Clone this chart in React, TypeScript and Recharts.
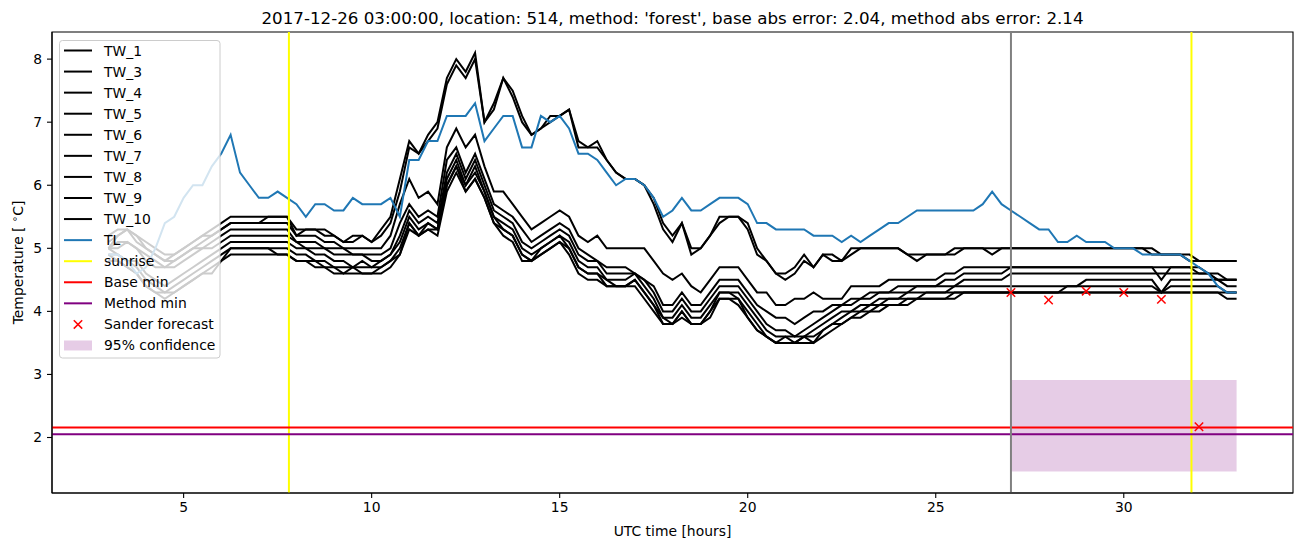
import React from 'react'
import {
  ComposedChart, Line, Scatter, XAxis, YAxis, ReferenceLine, ReferenceArea
} from 'recharts'

// sample times (hours UTC), one every 15 minutes
const HOURS = Array.from({ length: 121 }, (_, i) => 3 + i * 0.25)

const TW_1 = [
  5.2, 5.3, 5.3, 5.1, 5.0, 4.9, 4.8, 4.9, 5.0, 5.1, 5.2, 5.3, 5.4, 5.5, 5.5, 5.5,
  5.5, 5.5, 5.5, 5.5, 5.3, 5.3, 5.3, 5.3, 5.2, 5.1, 5.2, 5.2, 5.1, 5.3, 5.5, 6.1,
  6.7, 6.5, 6.8, 7.0, 7.7, 8.0, 7.8, 8.1, 7.0, 7.3, 7.7, 7.5, 7.1, 6.8, 6.9, 7.1,
  7.1, 7.2, 6.7, 6.6, 6.7, 6.4, 6.2, 6.1, 6.1, 6.0, 5.7, 5.3, 5.1, 5.4, 5.0, 5.0,
  5.2, 5.5, 5.5, 5.5, 5.3, 4.9, 4.8, 4.6, 4.6, 4.7, 4.9, 4.7, 4.9, 4.9, 4.8, 5.0,
  5.0, 5.0, 5.0, 5.0, 5.0, 4.9, 4.8, 4.9, 4.9, 4.9, 5.0, 5.0, 5.0, 5.0, 4.9, 5.0,
  5.0, 5.0, 5.0, 5.0, 5.0, 5.0, 5.0, 5.0, 5.0, 5.0, 5.0, 5.0, 5.0, 5.0, 5.0, 4.9,
  4.9, 4.9, 4.9, 4.9, 4.8, 4.8, 4.8, 4.8, 4.8,
]
const TW_3 = [
  5.1, 5.2, 5.3, 5.2, 5.1, 5.0, 4.9, 4.9, 5.0, 5.1, 5.2, 5.2, 5.3, 5.4, 5.4, 5.4,
  5.4, 5.5, 5.5, 5.5, 5.2, 5.3, 5.3, 5.2, 5.2, 5.1, 5.1, 5.2, 5.1, 5.2, 5.4, 5.9,
  6.6, 6.5, 6.7, 6.9, 7.6, 7.9, 7.7, 8.0, 7.0, 7.2, 7.7, 7.4, 7.0, 6.8, 6.9, 7.0,
  7.1, 7.2, 6.6, 6.6, 6.6, 6.4, 6.2, 6.1, 6.1, 6.0, 5.8, 5.4, 5.2, 5.4, 4.9, 5.0,
  5.2, 5.4, 5.5, 5.5, 5.4, 5.0, 4.8, 4.6, 4.5, 4.6, 4.8, 4.7, 4.9, 4.8, 4.8, 4.9,
  5.0, 5.0, 5.0, 5.0, 5.0, 4.9, 4.9, 4.9, 4.9, 4.9, 4.9, 5.0, 5.0, 5.0, 5.0, 5.0,
  5.0, 5.0, 5.0, 5.0, 5.0, 5.0, 5.0, 5.0, 5.0, 5.0, 5.0, 5.0, 5.0, 5.0, 5.0, 5.0,
  4.9, 4.9, 4.9, 4.8, 4.8, 4.8, 4.8, 4.8, 4.8,
]
const TW_4 = [
  5.0, 5.2, 5.3, 5.2, 5.0, 4.9, 4.8, 4.8, 4.9, 5.0, 5.1, 5.2, 5.3, 5.4, 5.4, 5.4,
  5.4, 5.4, 5.4, 5.4, 5.2, 5.2, 5.2, 5.1, 5.1, 5.0, 5.0, 5.0, 5.0, 5.0, 5.2, 5.7,
  6.1, 5.8, 5.9, 5.7, 6.6, 6.9, 6.6, 6.8, 6.3, 5.9, 5.9, 5.7, 5.5, 5.3, 5.4, 5.5,
  5.6, 5.5, 5.2, 5.1, 5.2, 5.0, 5.0, 5.0, 5.0, 5.0, 4.8, 4.6, 4.5, 4.6, 4.4, 4.3,
  4.5, 4.7, 4.7, 4.7, 4.5, 4.3, 4.3, 4.1, 4.1, 4.2, 4.2, 4.3, 4.2, 4.2, 4.2, 4.4,
  4.4, 4.4, 4.4, 4.5, 4.5, 4.5, 4.5, 4.5, 4.5, 4.6, 4.6, 4.7, 4.7, 4.7, 4.7, 4.7,
  4.7, 4.7, 4.7, 4.7, 4.7, 4.7, 4.7, 4.7, 4.7, 4.7, 4.7, 4.7, 4.7, 4.7, 4.7, 4.7,
  4.5, 4.7, 4.7, 4.7, 4.6, 4.6, 4.6, 4.5, 4.5,
]
const TW_5 = [
  5.0, 5.1, 5.1, 5.0, 4.9, 4.8, 4.7, 4.8, 4.9, 5.0, 5.0, 5.1, 5.2, 5.3, 5.3, 5.3,
  5.3, 5.3, 5.3, 5.3, 5.1, 5.1, 5.1, 5.0, 5.0, 5.0, 4.9, 4.9, 4.9, 4.9, 5.0, 5.4,
  5.7, 5.5, 5.6, 5.5, 6.4, 6.6, 6.2, 6.5, 6.1, 5.7, 5.6, 5.5, 5.3, 5.1, 5.2, 5.3,
  5.4, 5.3, 5.0, 4.9, 4.8, 4.7, 4.7, 4.7, 4.6, 4.5, 4.4, 4.1, 4.1, 4.3, 4.1, 4.1,
  4.3, 4.5, 4.5, 4.5, 4.3, 4.1, 4.0, 3.9, 3.9, 3.8, 3.9, 4.0, 4.0, 4.1, 4.1, 4.2,
  4.2, 4.3, 4.3, 4.3, 4.4, 4.4, 4.4, 4.4, 4.4, 4.5, 4.5, 4.6, 4.6, 4.6, 4.6, 4.6,
  4.7, 4.7, 4.7, 4.7, 4.7, 4.7, 4.7, 4.7, 4.7, 4.7, 4.7, 4.7, 4.7, 4.7, 4.7, 4.7,
  4.7, 4.7, 4.7, 4.7, 4.7, 4.6, 4.5, 4.5, 4.5,
]
const TW_6 = [
  5.0, 5.0, 5.1, 5.0, 4.8, 4.7, 4.7, 4.7, 4.8, 4.9, 5.0, 5.0, 5.1, 5.2, 5.2, 5.2,
  5.2, 5.2, 5.2, 5.2, 5.1, 5.0, 5.0, 5.0, 4.9, 4.9, 4.9, 4.9, 4.8, 4.8, 4.9, 5.2,
  5.6, 5.4, 5.5, 5.4, 6.2, 6.5, 6.1, 6.4, 6.0, 5.6, 5.5, 5.4, 5.1, 5.0, 5.1, 5.2,
  5.3, 5.2, 4.9, 4.8, 4.8, 4.6, 4.6, 4.6, 4.6, 4.5, 4.3, 4.0, 4.0, 4.2, 4.0, 4.0,
  4.2, 4.4, 4.4, 4.4, 4.2, 4.0, 3.8, 3.7, 3.7, 3.6, 3.7, 3.8, 3.9, 4.0, 4.1, 4.1,
  4.2, 4.2, 4.3, 4.3, 4.3, 4.3, 4.4, 4.4, 4.4, 4.4, 4.4, 4.5, 4.5, 4.5, 4.5, 4.5,
  4.6, 4.6, 4.6, 4.6, 4.6, 4.6, 4.6, 4.6, 4.6, 4.6, 4.6, 4.6, 4.6, 4.6, 4.6, 4.6,
  4.6, 4.6, 4.6, 4.6, 4.6, 4.6, 4.5, 4.5, 4.5,
]
const TW_7 = [
  5.0, 4.9, 4.8, 4.8, 4.6, 4.5, 4.4, 4.5, 4.6, 4.7, 4.8, 4.9, 5.0, 5.1, 5.1, 5.1,
  5.1, 5.1, 5.1, 5.1, 5.0, 5.0, 4.9, 4.9, 4.8, 4.8, 4.7, 4.8, 4.7, 4.8, 4.9, 5.1,
  5.5, 5.3, 5.4, 5.3, 6.1, 6.4, 6.0, 6.3, 5.9, 5.5, 5.4, 5.3, 5.0, 4.9, 5.0, 5.1,
  5.2, 5.1, 4.8, 4.7, 4.7, 4.5, 4.5, 4.5, 4.6, 4.4, 4.2, 3.9, 3.9, 4.1, 3.9, 3.9,
  4.1, 4.3, 4.3, 4.3, 4.1, 3.9, 3.7, 3.6, 3.6, 3.6, 3.6, 3.7, 3.8, 3.9, 4.0, 4.0,
  4.1, 4.1, 4.2, 4.2, 4.2, 4.3, 4.3, 4.3, 4.3, 4.3, 4.4, 4.4, 4.4, 4.4, 4.4, 4.4,
  4.4, 4.4, 4.4, 4.4, 4.4, 4.4, 4.4, 4.4, 4.5, 4.5, 4.5, 4.5, 4.5, 4.5, 4.5, 4.5,
  4.3, 4.5, 4.5, 4.5, 4.5, 4.5, 4.5, 4.4, 4.4,
]
const TW_8 = [
  4.9, 4.9, 4.8, 4.7, 4.5, 4.4, 4.3, 4.4, 4.5, 4.6, 4.7, 4.8, 4.9, 5.0, 5.0, 5.0,
  5.0, 5.0, 5.0, 5.0, 4.9, 4.9, 4.8, 4.8, 4.7, 4.7, 4.7, 4.7, 4.7, 4.7, 4.8, 5.0,
  5.4, 5.2, 5.4, 5.3, 6.0, 6.3, 6.0, 6.2, 5.9, 5.5, 5.3, 5.2, 4.9, 4.8, 5.0, 5.1,
  5.2, 5.0, 4.7, 4.6, 4.6, 4.5, 4.4, 4.4, 4.5, 4.3, 4.1, 3.9, 3.8, 4.0, 3.8, 3.8,
  4.0, 4.3, 4.3, 4.2, 4.0, 3.8, 3.6, 3.5, 3.6, 3.5, 3.6, 3.6, 3.7, 3.8, 3.9, 4.0,
  4.0, 4.1, 4.1, 4.2, 4.2, 4.2, 4.2, 4.3, 4.3, 4.3, 4.3, 4.3, 4.3, 4.3, 4.3, 4.3,
  4.3, 4.3, 4.3, 4.3, 4.3, 4.3, 4.4, 4.4, 4.4, 4.4, 4.4, 4.4, 4.4, 4.4, 4.4, 4.4,
  4.3, 4.4, 4.4, 4.4, 4.4, 4.4, 4.4, 4.3, 4.3,
]
const TW_9 = [
  4.9, 4.8, 4.7, 4.6, 4.4, 4.3, 4.3, 4.3, 4.4, 4.5, 4.6, 4.7, 4.8, 5.0, 5.0, 5.0,
  5.0, 5.0, 4.9, 4.9, 4.8, 4.8, 4.7, 4.7, 4.7, 4.6, 4.7, 4.6, 4.6, 4.7, 4.8, 4.9,
  5.4, 5.2, 5.3, 5.3, 6.0, 6.3, 5.9, 6.1, 5.8, 5.4, 5.3, 5.2, 4.9, 4.8, 4.9, 5.0,
  5.1, 5.0, 4.7, 4.6, 4.6, 4.4, 4.4, 4.4, 4.5, 4.3, 4.1, 3.8, 3.8, 4.0, 3.8, 3.8,
  4.0, 4.2, 4.2, 4.2, 3.9, 3.7, 3.6, 3.5, 3.5, 3.5, 3.6, 3.5, 3.7, 3.8, 3.8, 3.9,
  4.0, 4.0, 4.1, 4.1, 4.1, 4.2, 4.2, 4.2, 4.2, 4.2, 4.3, 4.3, 4.3, 4.3, 4.3, 4.3,
  4.3, 4.3, 4.3, 4.3, 4.3, 4.3, 4.3, 4.3, 4.3, 4.3, 4.3, 4.3, 4.3, 4.3, 4.3, 4.3,
  4.3, 4.3, 4.3, 4.3, 4.3, 4.3, 4.3, 4.2, 4.2,
]
const TW_10 = [
  4.8, 4.8, 4.7, 4.6, 4.4, 4.3, 4.2, 4.3, 4.4, 4.5, 4.6, 4.6, 4.8, 4.9, 4.9, 4.9,
  4.9, 4.9, 4.9, 4.9, 4.8, 4.8, 4.8, 4.7, 4.6, 4.6, 4.6, 4.6, 4.6, 4.6, 4.7, 4.9,
  5.3, 5.2, 5.3, 5.2, 5.9, 6.2, 5.9, 6.1, 5.8, 5.4, 5.2, 5.1, 4.8, 4.8, 4.9, 5.0,
  5.1, 4.9, 4.6, 4.5, 4.5, 4.4, 4.4, 4.4, 4.4, 4.2, 4.0, 3.8, 3.8, 3.9, 3.8, 3.8,
  3.9, 4.2, 4.2, 4.1, 3.9, 3.7, 3.6, 3.5, 3.5, 3.5, 3.5, 3.5, 3.6, 3.7, 3.8, 3.9,
  3.9, 4.0, 4.0, 4.1, 4.1, 4.1, 4.2, 4.2, 4.2, 4.2, 4.2, 4.3, 4.3, 4.3, 4.3, 4.3,
  4.3, 4.3, 4.3, 4.3, 4.3, 4.3, 4.3, 4.3, 4.3, 4.3, 4.3, 4.3, 4.3, 4.3, 4.3, 4.3,
  4.3, 4.3, 4.3, 4.3, 4.3, 4.3, 4.3, 4.3, 4.3,
]
const TL = [
  4.9, 4.9, 4.8, 4.6, 4.7, 5.0, 5.4, 5.5, 5.8, 6.0, 6.0, 6.3, 6.5, 6.8, 6.2, 6.0,
  5.8, 5.8, 5.9, 5.8, 5.7, 5.5, 5.7, 5.7, 5.6, 5.6, 5.8, 5.7, 5.7, 5.7, 5.8, 5.5,
  6.4, 6.4, 6.7, 6.7, 7.1, 7.1, 7.1, 7.3, 6.7, 6.9, 7.1, 7.1, 6.6, 6.6, 7.1, 7.0,
  7.1, 6.9, 6.5, 6.5, 6.4, 6.2, 6.0, 6.1, 6.1, 6.0, 5.8, 5.5, 5.6, 5.8, 5.6, 5.6,
  5.7, 5.8, 5.8, 5.8, 5.7, 5.4, 5.4, 5.3, 5.3, 5.3, 5.3, 5.2, 5.2, 5.2, 5.1, 5.2,
  5.1, 5.2, 5.3, 5.4, 5.4, 5.5, 5.6, 5.6, 5.6, 5.6, 5.6, 5.6, 5.6, 5.7, 5.9, 5.7,
  5.6, 5.5, 5.4, 5.3, 5.3, 5.1, 5.1, 5.2, 5.1, 5.1, 5.1, 5.0, 5.0, 5.0, 4.9, 4.9,
  4.9, 4.9, 4.9, 4.8, 4.7, 4.6, 4.4, 4.3, 4.3,
]

const SANDER_HOURS = [27, 28, 29, 30, 31, 32]
const SANDER_VALUES = [4.3, 4.18, 4.32, 4.3, 4.19, 2.17]

const SUNRISE = [7.8, 31.8]
const FORECAST_START = 27
const BASE_MIN = 2.16
const METHOD_MIN = 2.05
const CONF_HOURS = [27, 33]
const CONF_RANGE = [1.46, 2.91]

const X_DOMAIN = [1.5, 34.5]
const Y_DOMAIN = [1.12, 8.43]
const X_TICKS = [5, 10, 15, 20, 25, 30]
const Y_TICKS = [2, 3, 4, 5, 6, 7, 8]

const TW_SERIES: [string, number[]][] = [
  ['TW_1', TW_1], ['TW_3', TW_3], ['TW_4', TW_4], ['TW_5', TW_5], ['TW_6', TW_6],
  ['TW_7', TW_7], ['TW_8', TW_8], ['TW_9', TW_9], ['TW_10', TW_10],
]

const rows = HOURS.map((h, i) => {
  const r: Record<string, number> = { h, TL: TL[i] }
  TW_SERIES.forEach(([k, vals]) => { r[k] = vals[i] })
  return r
})
const sanderRows = SANDER_HOURS.map((h, i) => ({ h, v: SANDER_VALUES[i] }))

const FONT = 'DejaVu Sans'
const BLUE = '#1f77b4'

const LEGEND_ITEMS = [
  ...TW_SERIES.map(([k]) => ({ label: k, kind: 'line', color: '#000000' })),
  { label: 'TL', kind: 'line', color: BLUE },
  { label: 'sunrise', kind: 'line', color: '#ffff00' },
  { label: 'Base min', kind: 'line', color: '#ff0000' },
  { label: 'Method min', kind: 'line', color: '#800080' },
  { label: 'Sander forecast', kind: 'x', color: '#ff0000' },
  { label: '95% confidence', kind: 'patch', color: '#800080' },
]

function XMark(props: any) {
  const { cx, cy } = props
  const s = 4.2
  return (
    <g stroke="#ff0000" strokeWidth={1.5}>
      <line x1={cx - s} y1={cy - s} x2={cx + s} y2={cy + s} />
      <line x1={cx - s} y1={cy + s} x2={cx + s} y2={cy - s} />
    </g>
  )
}

function Overlay() {
  const rowY = (i: number) => 50.5 + i * 21.07
  return (
    <svg width={1302} height={547} style={{ position: 'absolute', left: 0, top: 0, pointerEvents: 'none' }}>
      <text x={672.5} y={24} textAnchor="middle" fontSize={16.7} fontFamily={FONT} fill="#000">
        2017-12-26 03:00:00, location: 514, method: 'forest', base abs error: 2.04, method abs error: 2.14
      </text>
      <text x={672.5} y={536} textAnchor="middle" fontSize={13.9} fontFamily={FONT} fill="#000">
        UTC time [hours]
      </text>
      <text transform="translate(23,262.5) rotate(-90)" textAnchor="middle" fontSize={13.9} fontFamily={FONT} fill="#000">
        Temperature [ <tspan dy={-5} fontSize={10}>∘</tspan><tspan dy={5}>C]</tspan>
      </text>

      <rect x={59.5} y={40.5} width={160.5} height={317.5} rx={3} fill="#ffffff" fillOpacity={0.8} stroke="#cccccc" strokeWidth={1} />
      {LEGEND_ITEMS.map((it, i) => {
        const y = rowY(i)
        return (
          <g key={it.label}>
            {it.kind === 'line' && <line x1={64} x2={92} y1={y} y2={y} stroke={it.color} strokeWidth={2} />}
            {it.kind === 'x' && <XMark cx={78} cy={y} />}
            {it.kind === 'patch' && <rect x={64} y={y - 5} width={28} height={10} fill={it.color} fillOpacity={0.2} />}
            <text x={104} y={y} dominantBaseline="central" fontSize={13.9} fontFamily={FONT} fill="#000">{it.label}</text>
          </g>
        )
      })}
    </svg>
  )
}

export default function App() {
  const tick = { fontSize: 13.9, fill: '#000', fontFamily: FONT }
  return (
    <div style={{ position: 'absolute', left: 0, top: 0, width: 1302, height: 547, background: '#fff', fontFamily: FONT }}>
      <ComposedChart width={1302} height={547} data={rows} margin={{ top: 32, right: 9, bottom: 0, left: 0 }}>
        <XAxis dataKey="h" type="number" domain={X_DOMAIN} ticks={X_TICKS} interval={0} allowDataOverflow
          height={54} tickSize={5} tickMargin={4} tick={tick}
          axisLine={{ stroke: '#000', strokeWidth: 1.1 }} tickLine={{ stroke: '#000', strokeWidth: 1.1 }} />
        <YAxis type="number" domain={Y_DOMAIN} ticks={Y_TICKS} interval={0} allowDataOverflow
          width={52} tickSize={5} tickMargin={5} tick={tick}
          axisLine={{ stroke: '#000', strokeWidth: 1.1 }} tickLine={{ stroke: '#000', strokeWidth: 1.1 }} />

        <ReferenceArea x1={CONF_HOURS[0]} x2={CONF_HOURS[1]} y1={CONF_RANGE[0]} y2={CONF_RANGE[1]}
          fill="#800080" fillOpacity={0.2} stroke="none" />

        {TW_SERIES.map(([k]) => (
          <Line key={k} dataKey={k} name={k} type="linear" stroke="#000000" strokeWidth={2}
            dot={false} activeDot={false} isAnimationActive={false} />
        ))}
        <Line dataKey="TL" name="TL" type="linear" stroke={BLUE} strokeWidth={2}
          dot={false} activeDot={false} isAnimationActive={false} />

        {SUNRISE.map(h => (
          <ReferenceLine key={h} x={h} stroke="#ffff00" strokeWidth={2} />
        ))}
        <ReferenceLine y={BASE_MIN} stroke="#ff0000" strokeWidth={2} />
        <ReferenceLine y={METHOD_MIN} stroke="#800080" strokeWidth={2} />
        <ReferenceLine x={FORECAST_START} stroke="#808080" strokeWidth={2} />

        <Scatter data={sanderRows} dataKey="v" shape={XMark} isAnimationActive={false} />

        {/* axes frame (matplotlib spines) */}
        <ReferenceArea x1={X_DOMAIN[0]} x2={X_DOMAIN[1]} y1={Y_DOMAIN[0]} y2={Y_DOMAIN[1]}
          fill="none" stroke="#000" strokeWidth={1.1} />
      </ComposedChart>
      <Overlay />
    </div>
  )
}
